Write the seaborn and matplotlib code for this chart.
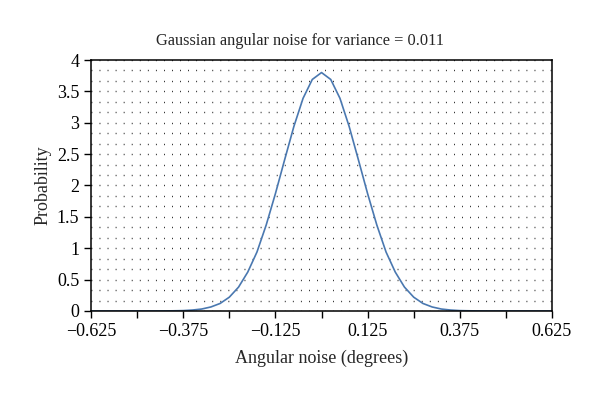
import seaborn as sns
import matplotlib.pyplot as plt
import matplotlib.ticker as mticker
import pandas as pd

# noise values (degrees) sampled every 0.025
noise = [-0.625, -0.6, -0.575, -0.55, -0.525, -0.5, -0.475, -0.45, -0.425, -0.4,
         -0.375, -0.35, -0.325, -0.3, -0.275, -0.25, -0.225, -0.2, -0.175, -0.15,
         -0.125, -0.1, -0.075, -0.05, -0.025, 0.0, 0.025, 0.05, 0.075, 0.1,
         0.125, 0.15, 0.175, 0.2, 0.225, 0.25, 0.275, 0.3, 0.325, 0.35,
         0.375, 0.4, 0.425, 0.45, 0.475, 0.5, 0.525, 0.55, 0.575, 0.6, 0.625]
prob = [0, 0, 0, 0, 0, 0, 0, 0, 0.001, 0.003,
        0.006, 0.015, 0.031, 0.064, 0.12, 0.22, 0.38, 0.62, 0.94, 1.37,
        1.87, 2.41, 2.94, 3.39, 3.69, 3.80, 3.69, 3.39, 2.94, 2.41,
        1.87, 1.37, 0.94, 0.62, 0.38, 0.22, 0.12, 0.064, 0.031, 0.015,
        0.006, 0.003, 0.001, 0, 0, 0, 0, 0, 0, 0, 0]

xtick_labels = ["\u22120.625", "\u22120.375", "\u22120.125", "0.125", "0.375", "0.625"]
ytick_labels = ["0", "0.5", "1", "1.5", "2", "2.5", "3", "3.5", "4"]

df = pd.DataFrame({"noise": noise, "prob": prob})

sns.set_style("ticks")
plt.rcParams["font.family"] = ["Liberation Serif", "DejaVu Serif"]

fig = plt.figure(figsize=(6, 3.94), dpi=100)
ax = fig.add_axes([0.1517, 0.2107, 0.7683, 0.637])

sns.lineplot(data=df, x="noise", y="prob", ax=ax, color="#4a78b0", linewidth=1.2)

ax.set_xlim(-0.625, 0.625)
ax.set_ylim(0, 4)

ax.xaxis.set_major_locator(mticker.FixedLocator([-0.625, -0.375, -0.125, 0.125, 0.375, 0.625]))
ax.set_xticklabels(xtick_labels)
ax.xaxis.set_minor_locator(mticker.FixedLocator([-0.5, -0.25, 0.0, 0.25, 0.5]))
ax.yaxis.set_major_locator(mticker.FixedLocator([0, 0.5, 1, 1.5, 2, 2.5, 3, 3.5, 4]))
ax.set_yticklabels(ytick_labels)
ax.yaxis.set_minor_locator(mticker.MultipleLocator(1 / 6))

ax.tick_params(axis="both", which="both", direction="out", length=5, width=1,
               color="black", labelsize=13, labelcolor="black")
ax.tick_params(axis="y", which="minor", length=0)

# dotted background grid
ax.grid(False)
ax.grid(True, which="both", axis="y", color="#111111", linewidth=1.0,
        linestyle=(0, (0.6, 5.2)))
ax.set_axisbelow(True)

for s in ax.spines.values():
    s.set_visible(True)
    s.set_color("black")
    s.set_linewidth(1.1)

ax.set_title("Gaussian angular noise for variance = 0.011", fontsize=11.8,
             x=0.4534, pad=11)
ax.set_xlabel("Angular noise (degrees)", fontsize=13, labelpad=7)
ax.set_ylabel("Probability", fontsize=13, labelpad=4)

fig.savefig("out.png", dpi=100)
